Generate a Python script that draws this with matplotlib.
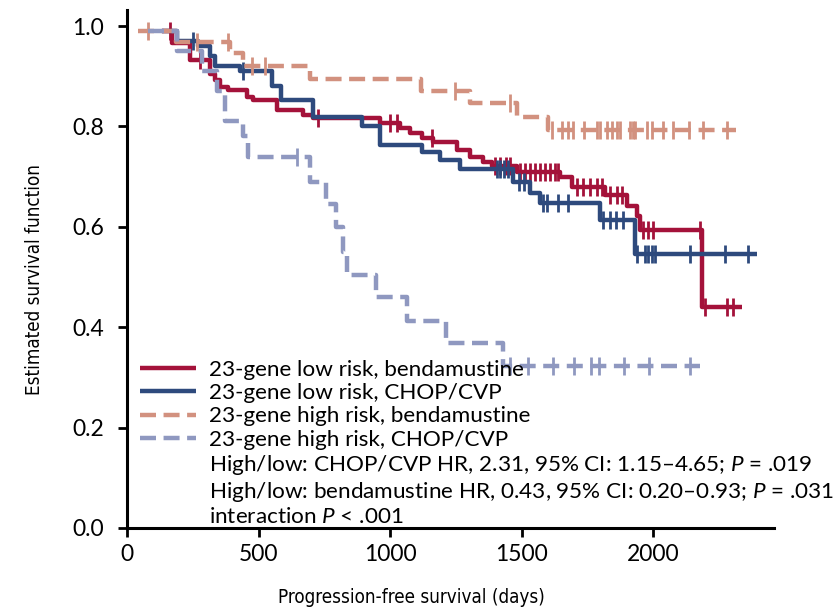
import numpy as np
import matplotlib
matplotlib.use("Agg")
import matplotlib.pyplot as plt
from matplotlib.lines import Line2D

plt.rcParams['font.family'] = ['Lato', 'DejaVu Sans']
plt.rcParams['mathtext.fontset'] = 'custom'
plt.rcParams['mathtext.rm'] = 'Lato'
plt.rcParams['mathtext.it'] = 'Lato:italic'

# Kaplan-Meier step curves: event days and survival level after each step
lrb_days = [133, 170, 240, 316, 335, 354, 385, 455, 480, 569, 670, 708, 962, 1038,
            1076, 1120, 1164, 1254, 1304, 1355, 1387, 1482, 1646, 1691, 1817, 1900,
            1938, 1950, 2186]
lrb_surv = [0.99, 0.966, 0.932, 0.905, 0.892, 0.879, 0.873, 0.859, 0.853, 0.833,
            0.823, 0.816, 0.806, 0.796, 0.786, 0.776, 0.770, 0.753, 0.740, 0.730,
            0.722, 0.710, 0.700, 0.680, 0.663, 0.642, 0.622, 0.594, 0.441]
lrb_end = 2338
lrb_cens = [163, 277, 727, 1000, 1027, 1160, 1400, 1420, 1440, 1456, 1494, 1513,
            1532, 1551, 1570, 1589, 1608, 1627, 1639, 1710, 1735, 1760, 1786, 1805,
            1836, 1862, 1881, 1963, 1982, 2001, 2179, 2198, 2281, 2304]

lrc_days = [133, 189, 270, 316, 335, 430, 551, 585, 708, 893, 962, 1121, 1190,
            1266, 1468, 1532, 1570, 1798, 1931]
lrc_surv = [0.99, 0.97, 0.96, 0.94, 0.92, 0.91, 0.88, 0.853, 0.818, 0.800, 0.763,
            0.750, 0.733, 0.715, 0.690, 0.667, 0.648, 0.613, 0.545]
lrc_end = 2395
lrc_cens = [251, 441, 1407, 1420, 1435, 1450, 1490, 1510, 1582, 1597, 1639, 1677,
            1810, 1835, 1860, 1886, 1939, 1969, 1981, 1996, 2007, 2141, 2274, 2361]

hrb_days = [40, 186, 392, 441, 696, 1117, 1304, 1482, 1601]
hrb_surv = [0.99, 0.968, 0.946, 0.920, 0.894, 0.871, 0.846, 0.818, 0.793]
hrb_end = 2315
hrb_cens = [80, 266, 385, 475, 525, 1247, 1456, 1615, 1654, 1677, 1696, 1738,
            1787, 1798, 1825, 1844, 1863, 1874, 1912, 1923, 1931, 1977, 1996, 2038,
            2076, 2137, 2190, 2281]

hrc_days = [80, 190, 285, 342, 372, 441, 460, 696, 757, 795, 821, 837, 945, 1065,
            1213, 1430]
hrc_surv = [0.99, 0.95, 0.91, 0.87, 0.81, 0.78, 0.74, 0.69, 0.645, 0.60, 0.55,
            0.505, 0.46, 0.413, 0.368, 0.322]
hrc_end = 2180
hrc_cens = [646, 1455, 1525, 1620, 1700, 1765, 1795, 1890, 1985, 2140]

labels = ["23-gene low risk, bendamustine",
          "23-gene low risk, CHOP/CVP",
          "23-gene high risk, bendamustine",
          "23-gene high risk, CHOP/CVP"]
stats_lines = ["High/low: CHOP/CVP HR, 2.31, 95% CI: 1.15\u20134.65; $P$ = .019",
               "High/low: bendamustine HR, 0.43, 95% CI: 0.20\u20130.93; $P$ = .031",
               "interaction $P$ < .001"]

colors = ['#A4123A', '#2E4A7D', '#D2917F', '#8F98C0']
dash = (0, (3.6, 1.7))
styles = ['-', '-', dash, dash]

fig = plt.figure(figsize=(8.35, 6.07), dpi=100)
ax = fig.add_axes([127 / 835, 79 / 607, 647 / 835, 518 / 607])

curves = [(lrb_days, lrb_surv, lrb_end, lrb_cens),
          (lrc_days, lrc_surv, lrc_end, lrc_cens),
          (hrb_days, hrb_surv, hrb_end, hrb_cens),
          (hrc_days, hrc_surv, hrc_end, hrc_cens)]

handles = []
for (d, s, end, cens), col, ls, lab in zip(curves, colors, styles, labels):
    d = np.asarray(d, float)
    s = np.asarray(s, float)
    x = np.append(d, end)
    y = np.append(s, s[-1])
    h, = ax.step(x, y, where='post', color=col, lw=3.2, linestyle=ls,
                 solid_capstyle='butt', dash_capstyle='butt', label=lab)
    handles.append(h)
    c = np.asarray(cens, float)
    idx = np.searchsorted(d, c, side='right') - 1
    ax.plot(c, s[idx], linestyle='none', marker='|', markersize=13,
            markeredgewidth=2.0, color=col)

for txt in stats_lines:
    handles.append(Line2D([], [], color='none', label=txt))

ax.set_xlim(0, 2460)
ax.set_ylim(0, 1.032)
ax.set_xticks([0, 500, 1000, 1500, 2000])
ax.set_yticks([0.0, 0.2, 0.4, 0.6, 0.8, 1.0])
ax.set_yticklabels([f"{v:.1f}" for v in [0.0, 0.2, 0.4, 0.6, 0.8, 1.0]])

for side in ['top', 'right']:
    ax.spines[side].set_visible(False)
for side in ['left', 'bottom']:
    ax.spines[side].set_linewidth(2.2)
ax.tick_params(direction='out', length=6.5, width=2.0, labelsize=16.5)
ax.tick_params(axis='x', pad=5)
ax.tick_params(axis='y', pad=10)

narrow = ['Liberation Sans Narrow', 'DejaVu Sans']
ax.set_xlabel("Progression-free survival (days)", family=narrow,
              fontstretch='condensed', fontsize=13.5)
ax.xaxis.set_label_coords(0.44, -0.115)
ax.set_ylabel("Estimated survival function", family=narrow,
              fontstretch='condensed', fontsize=13.5)
ax.yaxis.set_label_coords(-0.128, 0.48)

leg = ax.legend(handles=handles, loc='lower left',
                bbox_to_anchor=(140 / 835, 80 / 607), bbox_transform=fig.transFigure,
                frameon=False, fontsize=16.2, handlelength=2.5, handletextpad=0.55,
                labelspacing=0.14, borderpad=0, borderaxespad=0)

fig.savefig("out.png", dpi=100)
